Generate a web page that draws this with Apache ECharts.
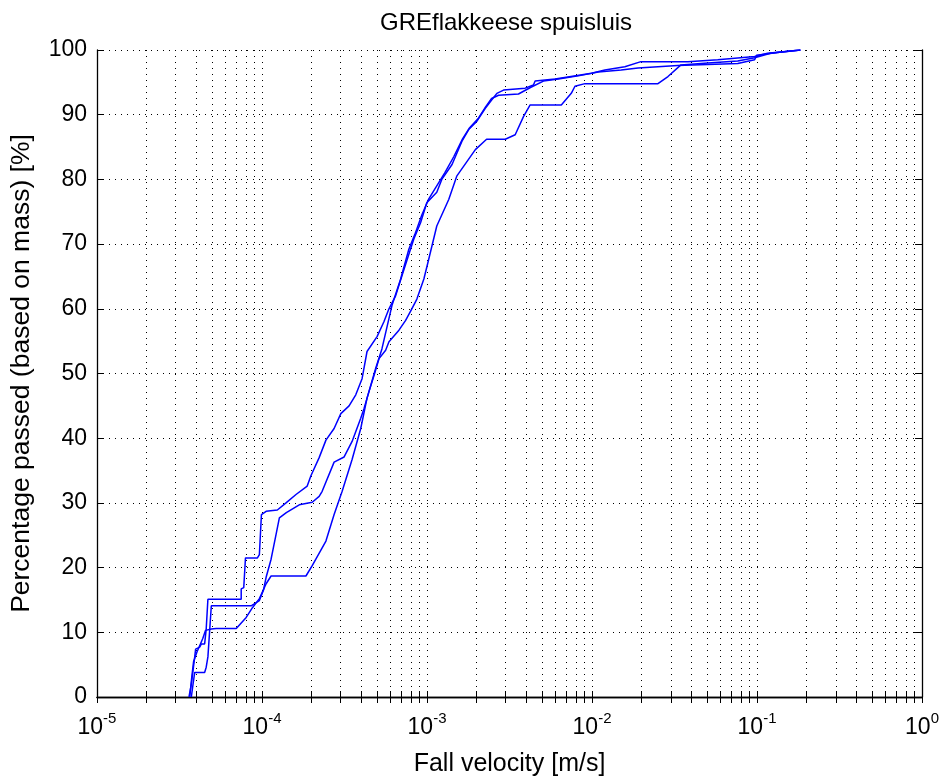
<!DOCTYPE html>
<html>
<head>
<meta charset="utf-8">
<script src="https://cdn.jsdelivr.net/npm/echarts@6/dist/echarts.min.js"></script>
<style>
html,body{margin:0;padding:0;background:#fff;}
#chart{width:942px;height:782px;}
</style>
</head>
<body>
<div id="chart"></div>
<script>
// ---- data (fall velocity [m/s], percentage passed [%]) ----
const titleText = 'GREflakkeese spuisluis';
const xName = 'Fall velocity [m/s]';
const yName = 'Percentage passed (based on mass) [%]';

const aVel = [3.61e-5,3.73e-5,3.82e-5,3.91e-5,3.96e-5,4.19e-5,4.29e-5,4.49e-5,4.59e-5,4.70e-5,7.48e-5,7.48e-5,7.75e-5,7.94e-5,9.38e-5,9.64e-5,9.92e-5,1.059e-4,1.239e-4,1.398e-4,1.607e-4,1.879e-4,1.979e-4,2.22e-4,2.44e-4,2.735e-4,3.004e-4,3.37e-4,3.70e-4,4.04e-4,4.33e-4,4.98e-4,5.48e-4,5.88e-4,6.45e-4,7.05e-4,7.94e-4,8.32e-4,9.14e-4,9.97e-4,1.146e-3,1.229e-3,1.418e-3,1.629e-3,1.789e-3,2.007e-3,2.256e-3,2.418e-3,2.651e-3,2.91e-3,3.933e-3,4.416e-3,4.52e-3,5.97e-3,9.93e-3,1.197e-2,1.58e-2,1.98e-2,3.81e-2,5.78e-2,9.67e-2,0.1159,0.1832];
const aPct = [0,2,4.1,6.2,7.4,7.7,8.2,8.2,10.5,15.1,15.1,16.7,16.9,21.5,21.5,22,28.2,28.7,28.9,30,31.3,32.6,34.2,37,39.7,41.5,43.8,45,46.7,49.2,53.4,55.7,58,60,62,65.1,69.2,70.8,73.3,76.4,78,80,82.3,85.9,87.7,89,91,92,93.3,93.8,94.1,94.6,95.2,95.5,96.4,96.9,97.4,98.2,98.2,98.5,99,99.5,100];

const bVel = [3.73e-5,3.82e-5,3.91e-5,4.49e-5,4.59e-5,4.70e-5,4.93e-5,8.59e-5,9.64e-5,1.02e-4,1.059e-4,1.135e-4,1.216e-4,1.274e-4,1.404e-4,1.682e-4,2.015e-4,2.22e-4,2.315e-4,2.735e-4,3.145e-4,3.515e-4,3.966e-4,4.153e-4,4.45e-4,4.772e-4,5.12e-4,5.614e-4,5.88e-4,6.76e-4,7.42e-4,8.09e-4,8.68e-4,9.57e-4,1.025e-3,1.146e-3,1.354e-3,1.514e-3,1.963e-3,2.296e-3,2.979e-3,3.422e-3,3.842e-3,4.217e-3,6.516e-3,7.487e-3,7.882e-3,9.06e-3,2.51e-2,2.886e-2,3.457e-2,5.035e-2,7.64e-2,9.67e-2,0.1208,0.1832];
const bPct = [0,2,3.8,3.8,4.6,6.2,14.1,14.1,14.9,16.5,18.5,21.3,25.1,27.7,28.5,29.7,30.1,31,31.8,36.3,37.1,39.5,43.1,44.6,47.2,49.7,52.3,53.6,54.9,56.7,58.2,60,61.5,64.6,67.7,72.8,76.9,80.5,84.6,86.2,86.2,86.9,89.7,91.5,91.5,93.3,94.4,94.8,94.8,95.9,97.7,98,98.3,98.8,99.5,100];

const cVel = [3.65e-5,3.75e-5,3.85e-5,4.04e-5,4.37e-5,4.55e-5,4.93e-5,5.28e-5,6.98e-5,8.02e-5,8.75e-5,9.64e-5,1.059e-4,1.135e-4,1.846e-4,2.015e-4,2.44e-4,2.735e-4,3.06e-4,3.515e-4,3.966e-4,4.33e-4,4.887e-4,5.33e-4,6.13e-4,6.92e-4,7.76e-4,8.44e-4,9.30e-4,1.025e-3,1.178e-3,1.281e-3,1.452e-3,1.645e-3,1.813e-3,2.055e-3,2.265e-3,2.462e-3,2.714e-3,3.583e-3,4.234e-3,5.074e-3,6.25e-3,8.25e-3,1.09e-2,1.501e-2,1.90e-2,3.31e-2,7.64e-2,9.67e-2,9.95e-2,0.133,0.1832];
const cPct = [0,3,5.5,7,9,10.3,10.5,10.6,10.6,12.3,13.8,15.2,17.5,18.7,18.7,20.3,24.1,28.2,31.8,36.7,41.5,46.2,50.8,53.8,60.5,64.6,69.2,71.5,74.5,77,79.5,81,83.5,86.3,88,89.5,91.2,92.5,93,93.2,94.2,95.2,95.5,96,96.6,96.9,97.2,97.6,97.9,98.5,99.2,99.6,100];

const decades = [-5,-4,-3,-2,-1,0];
// ---- end data ----

function zip(xs, ys){ return xs.map((x,i)=>[x, ys[i]]); }
const tickVals = [];
decades.forEach(k=>{
  if (k === 0) { tickVals.push(1); return; }
  for (let m=1;m<=9;m++) tickVals.push(+(m*Math.pow(10,k)).toPrecision(6));
});

const FONT = 'Liberation Sans, Arial, sans-serif';
const dotted = {color:'#000', width:1, type:[1,5]};

const chart = echarts.init(document.getElementById('chart'), null, {renderer:'canvas'});
const lineSeries = (d) => ({
  type:'line', data:d, showSymbol:false, symbol:'none',
  lineStyle:{color:'#0000ff', width:1.5}, itemStyle:{color:'#0000ff'},
  animation:false, xAxisIndex:0, yAxisIndex:0
});

chart.setOption({
  backgroundColor:'#fff',
  animation:false,
  title:{text:titleText, left:375, top:6,
    textStyle:{fontFamily:FONT, fontSize:24, fontWeight:'normal', color:'#000'}},
  grid:{left:97, right:17, top:50, bottom:82, containLabel:false},
  xAxis:[{
    type:'log', logBase:10, min:1e-5, max:1, position:'bottom',
    name:xName, nameLocation:'middle', nameGap:55,
    nameTextStyle:{fontFamily:FONT, fontSize:25, color:'#000'},
    axisLine:{show:true, lineStyle:{color:'#000', width:1.3}},
    axisTick:{show:true, inside:true, length:6, lineStyle:{color:'#000', width:1}, customValues:tickVals},
    splitLine:{show:true, lineStyle:dotted},
    axisLabel:{show:true, margin:14, color:'#000',
      formatter:(v)=>'{b|10}{e|' + Math.round(Math.log10(v)) + '}',
      rich:{b:{fontFamily:FONT, fontSize:23, color:'#000', verticalAlign:'bottom'},
            e:{fontFamily:FONT, fontSize:15, color:'#000', verticalAlign:'bottom', padding:[0,0,13,0]}}}
  },{
    type:'log', logBase:10, min:1e-5, max:1, position:'top',
    axisLine:{show:true, lineStyle:{color:'#000', width:1.3}},
    axisTick:{show:true, inside:true, length:6, lineStyle:{color:'#000', width:1}, customValues:tickVals},
    splitLine:{show:false}, axisLabel:{show:false}
  }],
  yAxis:[{
    type:'value', min:0, max:100, interval:10, position:'left',
    name:yName, nameLocation:'middle', nameGap:62,
    nameTextStyle:{fontFamily:FONT, fontSize:26.5, color:'#000'},
    axisLine:{show:true, lineStyle:{color:'#000', width:1.3}},
    axisTick:{show:true, inside:true, length:7, lineStyle:{color:'#000', width:1}},
    splitLine:{show:true, lineStyle:dotted},
    axisLabel:{show:true, margin:10, color:'#000', fontFamily:FONT, fontSize:23}
  },{
    type:'value', min:0, max:100, interval:10, position:'right',
    axisLine:{show:true, lineStyle:{color:'#000', width:1.3}},
    axisTick:{show:true, inside:true, length:7, lineStyle:{color:'#000', width:1}},
    splitLine:{show:false}, axisLabel:{show:false}
  }],
  series:[ lineSeries(zip(aVel,aPct)), lineSeries(zip(bVel,bPct)), lineSeries(zip(cVel,cPct)) ]
});
</script>
</body>
</html>
